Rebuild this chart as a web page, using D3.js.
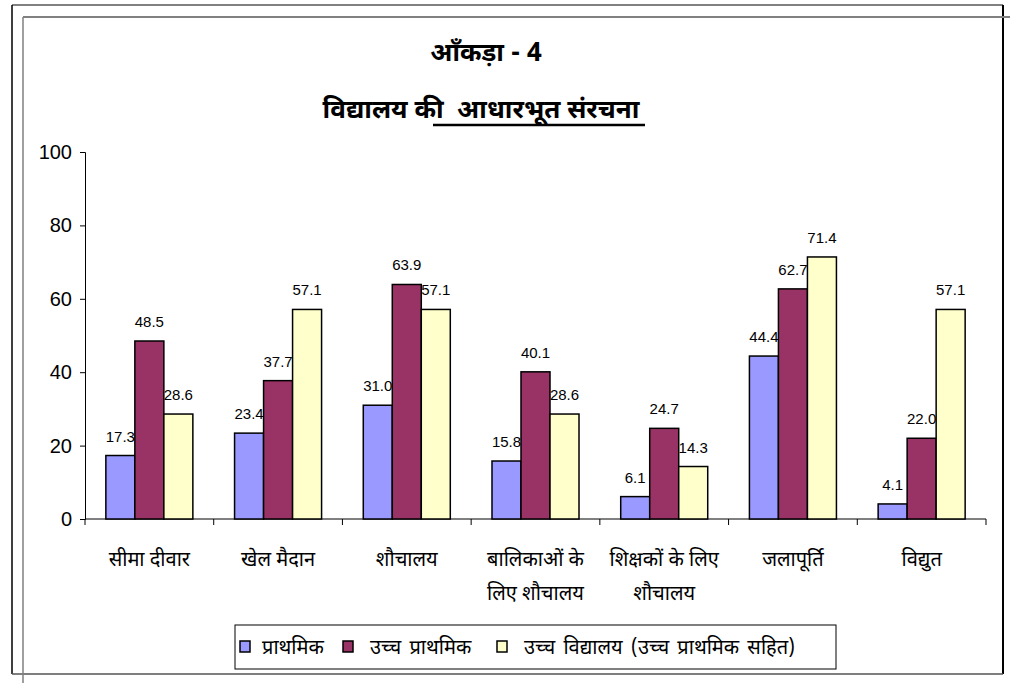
<!DOCTYPE html>
<html>
<head>
<meta charset="utf-8">
<script src="https://cdn.jsdelivr.net/npm/d3@7"></script>
<style>
  body { margin: 0; background: #fff; }
  .deva { font-family: "Noto Sans Devanagari", "Lohit Devanagari", "Mangal", sans-serif; white-space: pre; }
  .num { font-family: "Liberation Sans", Arial, sans-serif; }
</style>
</head>
<body>
<div id="chart"></div>
<script>
// categories (two lines each where the reference wraps)
const categories = [
  ["सीमा दीवार"],
  ["खेल मैदान"],
  ["शौचालय"],
  ["बालिकाओं के", "लिए शौचालय"],
  ["शिक्षकों के लिए", "शौचालय"],
  ["जलापूर्ति"],
  ["विद्युत"]
];
const seriesNames = ["प्राथमिक", "उच्च प्राथमिक", "उच्च विद्यालय (उच्च प्राथमिक सहित)"];
const primary = [17.3, 23.4, 31.0, 15.8, 6.1, 44.4, 4.1];
const upperPrimary = [48.5, 37.7, 63.9, 40.1, 24.7, 62.7, 22.0];
const highSchool = [28.6, 57.1, 57.1, 28.6, 14.3, 71.4, 57.1];
const yTicks = [0, 20, 40, 60, 80, 100];
const colors = ["#9999ff", "#993366", "#ffffcc"];

const W = 1010, H = 683;
const svg = d3.select('#chart').append('svg')
    .attr('width', W)
    .attr('height', H);

// page frames
svg.append('line').attr('x1', 12).attr('y1', 5).attr('x2', 1003).attr('y2', 5).attr('stroke', '#808080').attr('stroke-width', 2);
svg.append('line').attr('x1', 12).attr('y1', 5).attr('x2', 12).attr('y2', 674).attr('stroke', '#000').attr('stroke-width', 1.5);
svg.append('line').attr('x1', 1003).attr('y1', 5).attr('x2', 1003).attr('y2', 674).attr('stroke', '#000').attr('stroke-width', 2);
svg.append('line').attr('x1', 12).attr('y1', 674).attr('x2', 1003).attr('y2', 674).attr('stroke', '#555').attr('stroke-width', 1.5);
svg.append('line').attr('x1', 23).attr('y1', 17).attr('x2', 1010).attr('y2', 17).attr('stroke', '#808080').attr('stroke-width', 2);
svg.append('line').attr('x1', 23).attr('y1', 17).attr('x2', 23).attr('y2', 683).attr('stroke', '#808080').attr('stroke-width', 1.5);

// titles
svg.append('text').attr('class', 'deva')
    .attr('x', 486).attr('y', 61)
    .attr('text-anchor', 'middle')
    .style('font-size', '26px').style('font-weight', 'bold')
    .text('आँकड़ा - 4');
svg.append('text').attr('class', 'deva')
    .attr('x', 481).attr('y', 118)
    .attr('text-anchor', 'middle')
    .style('font-size', '26px').style('font-weight', 'bold')
    .text('विद्यालय की  आधारभूत संरचना');
svg.append('line').attr('x1', 433).attr('x2', 645).attr('y1', 125).attr('y2', 125)
    .attr('stroke', '#000').attr('stroke-width', 2.5);

// plot area
const plotL = 85, plotR = 986, plotT = 152, plotB = 519;

const x0 = d3.scaleBand()
    .domain(d3.range(categories.length))
    .range([plotL, plotR])
    .paddingInner(0.324)
    .paddingOuter(0.162);
const x1 = d3.scaleBand()
    .domain(d3.range(3))
    .range([0, x0.bandwidth()]);
const y = d3.scaleLinear().domain([0, 100]).range([plotB, plotT]);

// y axis
const yAxis = svg.append('g')
    .attr('transform', `translate(${plotL},0)`)
    .call(d3.axisLeft(y).tickValues(yTicks).tickSize(5).tickPadding(8));
yAxis.select('.domain').attr('stroke', '#000');
yAxis.selectAll('.tick line').attr('stroke', '#000');
yAxis.selectAll('text').attr('class', 'num').style('font-size', '20px').attr('fill', '#000');

// x axis line + boundary ticks
svg.append('line').attr('x1', plotL).attr('x2', plotR).attr('y1', plotB).attr('y2', plotB).attr('stroke', '#000');
const step = x0.step();
svg.selectAll('.xtick')
    .data(d3.range(categories.length + 1))
  .join('line')
    .attr('class', 'xtick')
    .attr('x1', i => plotL + i * step).attr('x2', i => plotL + i * step)
    .attr('y1', plotB).attr('y2', plotB + 6)
    .attr('stroke', '#000');

// bars
const series = [primary, upperPrimary, highSchool];
const rows = [];
series.forEach((vals, s) => vals.forEach((v, c) => rows.push({s, c, v})));

svg.selectAll('.bar')
    .data(rows)
  .join('rect')
    .attr('class', 'bar')
    .attr('x', d => x0(d.c) + x1(d.s))
    .attr('y', d => y(d.v))
    .attr('width', x1.bandwidth())
    .attr('height', d => plotB - y(d.v))
    .attr('fill', d => colors[d.s])
    .attr('stroke', '#000')
    .attr('stroke-width', 1.5);

svg.selectAll('.vlabel')
    .data(rows)
  .join('text')
    .attr('class', 'vlabel num')
    .attr('x', d => x0(d.c) + x1(d.s) + x1.bandwidth() / 2)
    .attr('y', d => y(d.v) - 14)
    .attr('text-anchor', 'middle')
    .style('font-size', '15px')
    .text(d => d.v.toFixed(1));

// category labels
const catG = svg.selectAll('.cat')
    .data(categories)
  .join('text')
    .attr('class', 'cat deva')
    .attr('text-anchor', 'middle')
    .style('font-size', '20px');
catG.selectAll('tspan')
    .data((d, i) => d.map((line, j) => ({line, j, i})))
  .join('tspan')
    .attr('x', d => x0(d.i) + x0.bandwidth() / 2)
    .attr('y', d => 566 + d.j * 34)
    .text(d => d.line);

// legend
const legend = svg.append('g');
legend.append('rect')
    .attr('x', 235).attr('y', 625).attr('width', 601).attr('height', 44)
    .attr('fill', '#fff').attr('stroke', '#000');
const legendX = [240, 343, 497];
seriesNames.forEach((name, i) => {
  legend.append('text').attr('class', 'deva')
      .attr('x', legendX[i] + (i === 0 ? 22 : 27)).attr('y', 654)
      .style('font-size', '20px')
      .style('word-spacing', '3px')
      .text(name);
  legend.append('rect')
      .attr('x', legendX[i]).attr('y', 641).attr('width', 10).attr('height', 11)
      .attr('fill', colors[i]).attr('stroke', '#000').attr('stroke-width', 1.5);
});
</script>
</body>
</html>
